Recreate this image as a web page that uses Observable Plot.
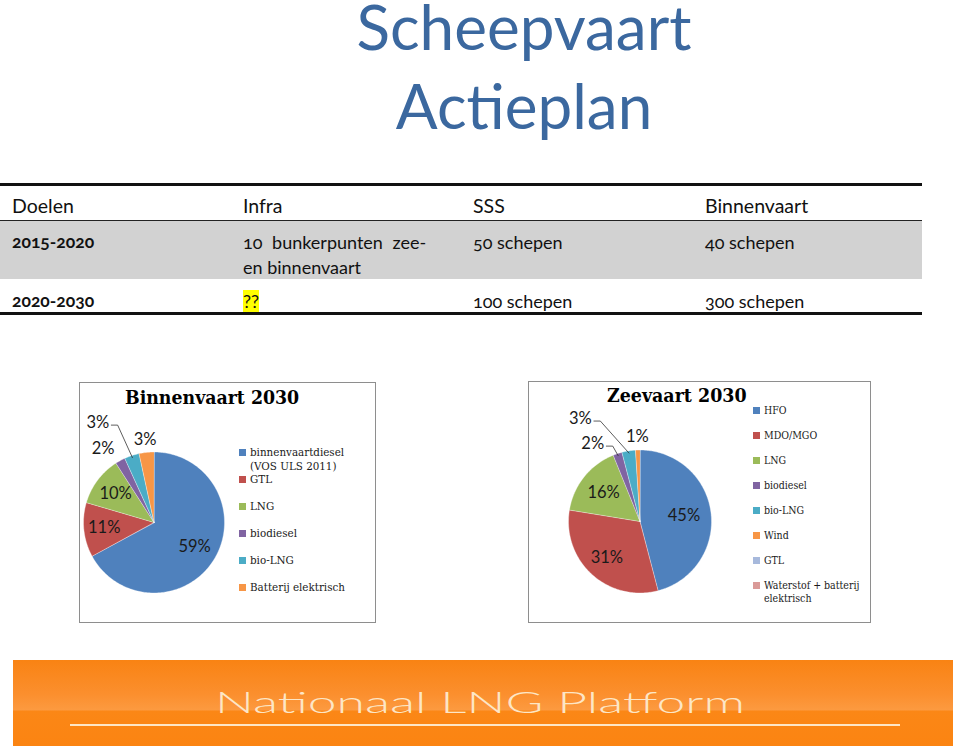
<!DOCTYPE html>
<html><head><meta charset="utf-8">
<script src="https://cdn.jsdelivr.net/npm/d3@7"></script>
<script src="https://cdn.jsdelivr.net/npm/@observablehq/plot@0.6"></script>
<style>
html,body{margin:0;padding:0;background:#fff;}
body{width:960px;height:750px;position:relative;overflow:hidden;font-family:Lato,"Open Sans",sans-serif;color:#111;}
.abs{position:absolute;white-space:nowrap;}
.title{left:274px;width:500px;text-align:center;color:#3b689f;font-size:62px;line-height:48px;}
.hd{font-size:19.5px;}
.cell{font-size:18px;font-variant-numeric:oldstyle-nums;}
.rowlab{font-size:17.5px;font-weight:700;font-variant-numeric:oldstyle-nums;}
.box{border:1.5px solid #8e8e8e;box-sizing:border-box;pointer-events:none;}
.ctitle{font-family:"DejaVu Serif Condensed","DejaVu Serif","Liberation Serif",serif;font-weight:700;color:#000;}
.leg{font-family:"DejaVu Serif Condensed","DejaVu Serif","Liberation Serif",serif;color:#1a1a1a;white-space:pre;}
.sw{position:absolute;width:7px;height:7px;}
</style></head><body>
<div id="page"></div>
<script>
// ---------- DATA ----------
const titleLines = ["Scheepvaart", "Actieplan"];
const tableHeaders = ["Doelen", "Infra", "SSS", "Binnenvaart"];
const tablePeriods = ["2015-2020", "2020-2030"];
const tableInfra = [["10 bunkerpunten zee-", "en binnenvaart"], ["??"]];
const tableSSS = ["50 schepen", "100 schepen"];
const tableBinnenvaart = ["40 schepen", "300 schepen"];

const binTitle = "Binnenvaart 2030";
const binCategories = ["binnenvaartdiesel\n(VOS ULS 2011)", "GTL", "LNG", "biodiesel", "bio-LNG", "Batterij elektrisch"];
const binValues = [59, 11, 10, 2, 3, 3];

const zeeTitle = "Zeevaart 2030";
const zeeCategories = ["HFO", "MDO/MGO", "LNG", "biodiesel", "bio-LNG", "Wind", "GTL", "Waterstof + batterij\nelektrisch"];
const zeeValues = [45, 31, 16, 2, 3, 1, 0, 0];

const footerText = "Nationaal LNG Platform";

// ---------- STYLE / LAYOUT ----------
const palette = ["#4F81BD", "#C0504D", "#9BBB59", "#8064A2", "#4BACC6", "#F79646", "#A7B9DC", "#DA9A98"];
const binLabelLayout = [{r:0.67},{r:0.71},{r:0.68},{r:1.27,da:-6},{r:1.62,da:-11,leader:true},{r:1.18}];
const zeeLabelLayout = [{r:0.62},{r:0.69},{r:0.65},{r:1.27,da:-13,leader:true},{r:1.66,da:-21,leader:true},{r:1.19},null,null];

const page = document.getElementById("page");
function el(cls, style, text) {
  const d = document.createElement("div");
  d.className = cls;
  Object.assign(d.style, style);
  if (text != null) d.textContent = text;
  page.appendChild(d);
  return d;
}

// Title
titleLines.forEach((t, i) => el("abs title", {top: (2 + i * 79) + "px"}, t));

// Table
const colX = [12, 243, 473, 705];
el("abs", {left:"0px", top:"183px", width:"922px", height:"2.5px", background:"#111"});
tableHeaders.forEach((h, i) => el("abs hd", {left: colX[i] + "px", top: "194px"}, h));
el("abs", {left:"0px", top:"220px", width:"922px", height:"59px", background:"#d2d2d2"});
el("abs", {left:"0px", top:"219.5px", width:"922px", height:"1.2px", background:"#222"});
const rowTop = [230, 289];
tablePeriods.forEach((p, r) => {
  el("abs rowlab", {left: colX[0] + "px", top: (rowTop[r] + 1) + "px"}, p);
  tableInfra[r].forEach((line, k) => {
    const c = el("abs cell", {left: colX[1] + "px", top: (rowTop[r] + k * 25) + "px", lineHeight: "25px", wordSpacing: k === 0 && tableInfra[r].length > 1 ? "5px" : "0"}, line);
    if (line === "??") { c.style.background = "#ffff00"; c.style.lineHeight = "23px"; c.style.top = (rowTop[r] + 1) + "px"; }
  });
  el("abs cell", {left: colX[2] + "px", top: rowTop[r] + "px", lineHeight: "25px"}, tableSSS[r]);
  el("abs cell", {left: colX[3] + "px", top: rowTop[r] + "px", lineHeight: "25px"}, tableBinnenvaart[r]);
});
el("abs", {left:"0px", top:"312px", width:"922px", height:"2.5px", background:"#111"});

// Pie charts
function pieChart({title, categories, values, layout, box, center, radius, titleStyle, legend}) {
  const colors = palette.slice(0, categories.length);
  const arcs = d3.pie().sort(null).value(d => d)(values);
  const deg = Math.PI / 180;
  const slices = arcs.filter(a => a.value > 0).map(a => {
    const n = Math.max(2, Math.ceil((a.endAngle - a.startAngle) / deg));
    const ring = [[0, 0]];
    for (let i = 0; i <= n; i++) {
      const t = a.startAngle + (a.endAngle - a.startAngle) * i / n;
      ring.push([Math.sin(t), -Math.cos(t)]);
    }
    ring.push([0, 0]);
    return {type: "Feature", properties: {cat: categories[a.index]}, geometry: {type: "Polygon", coordinates: [ring]}};
  });
  const labels = [];
  const leaders = [];
  arcs.forEach(a => {
    const L = layout[a.index];
    if (!L || a.value <= 0) return;
    const mid = (a.startAngle + a.endAngle) / 2;
    const ang = mid + (L.da || 0) * deg;
    const x = Math.sin(ang) * L.r, y = -Math.cos(ang) * L.r;
    labels.push({x, y, text: Math.round(a.value) + "%"});
    if (L.leader) {
      const sx = x + 0.19, sy = y + 0.03;
      leaders.push({type: "Feature", geometry: {type: "LineString", coordinates: [[sx, sy], [sx + 0.09, sy], [Math.sin(mid) * 0.97, -Math.cos(mid) * 0.97]]}});
    }
  });
  const chart = Plot.plot({
    width: box.w, height: box.h,
    marginLeft: center.x - radius - box.x,
    marginTop: center.y - radius - box.y,
    marginRight: box.x + box.w - (center.x + radius),
    marginBottom: box.y + box.h - (center.y + radius),
    projection: {type: "identity", domain: {type: "MultiPoint", coordinates: [[-1, -1], [1, 1]]}, clip: false},
    color: {domain: categories, range: colors},
    style: {background: "transparent", overflow: "visible"},
    marks: [
      Plot.geo(slices, {fill: d => d.properties.cat, stroke: "#ffffff", strokeWidth: 0.6, strokeOpacity: 0.6}),
      Plot.geo(leaders, {stroke: "#333", strokeWidth: 0.8, fill: "none"}),
      Plot.text(labels, {x: "x", y: "y", text: "text", fontSize: 16.5, fill: "#1a1a1a", fontFamily: "Lato, 'Open Sans', sans-serif", textAnchor: "middle"})
    ]
  });
  const wrap = el("abs", {left: box.x + "px", top: box.y + "px", width: box.w + "px", height: box.h + "px"});
  wrap.appendChild(chart);
  chart.style.position = "absolute"; chart.style.left = "0"; chart.style.top = "0";
  el("abs box", {left: box.x + "px", top: box.y + "px", width: box.w + "px", height: box.h + "px"});
  el("abs ctitle", titleStyle, title);
  categories.forEach((c, i) => {
    const cy = legend.y0 + i * legend.step;
    el("sw", {left: legend.x + "px", top: (cy - 3.5) + "px", background: colors[i]});
    el("abs leg", {left: (legend.x + 11) + "px", top: (cy - legend.lh / 2) + "px", fontSize: legend.fs + "px", lineHeight: legend.lh + "px"}, c);
  });
}

pieChart({
  title: binTitle, categories: binCategories, values: binValues, layout: binLabelLayout,
  box: {x: 79, y: 382, w: 297, h: 241}, center: {x: 153.5, y: 522}, radius: 70.5,
  titleStyle: {left: "125px", top: "386px", fontSize: "19.3px", lineHeight: "24px"},
  legend: {x: 239, y0: 452, step: 27, fs: 11.5, lh: 14}
});
pieChart({
  title: zeeTitle, categories: zeeCategories, values: zeeValues, layout: zeeLabelLayout,
  box: {x: 528, y: 381, w: 343, h: 242}, center: {x: 639.5, y: 521}, radius: 71.5,
  titleStyle: {left: "607px", top: "384px", fontSize: "19.4px", lineHeight: "24px"},
  legend: {x: 753, y0: 410, step: 25, fs: 10.5, lh: 13}
});

// Footer banner
el("abs", {left: "13px", top: "660px", width: "940px", height: "86px",
  background: "linear-gradient(to bottom, #f98313 0%, #fb8f2e 40%, #fc9a40 58%, #fb8716 59.5%, #fb8412 100%)"});
const ft = el("abs", {left: "0px", top: "684px", fontSize: "29px", fontWeight: "300", color: "#fde6c6", lineHeight: "36px", transformOrigin: "0 50%"}, footerText);
const fw = ft.getBoundingClientRect().width;
const sx = 530 / fw;
ft.style.transform = `translateX(215px) scaleX(${sx})`;
el("abs", {left: "70px", top: "724px", width: "830px", height: "2px", background: "#fde6c6"});
</script>
</body></html>
